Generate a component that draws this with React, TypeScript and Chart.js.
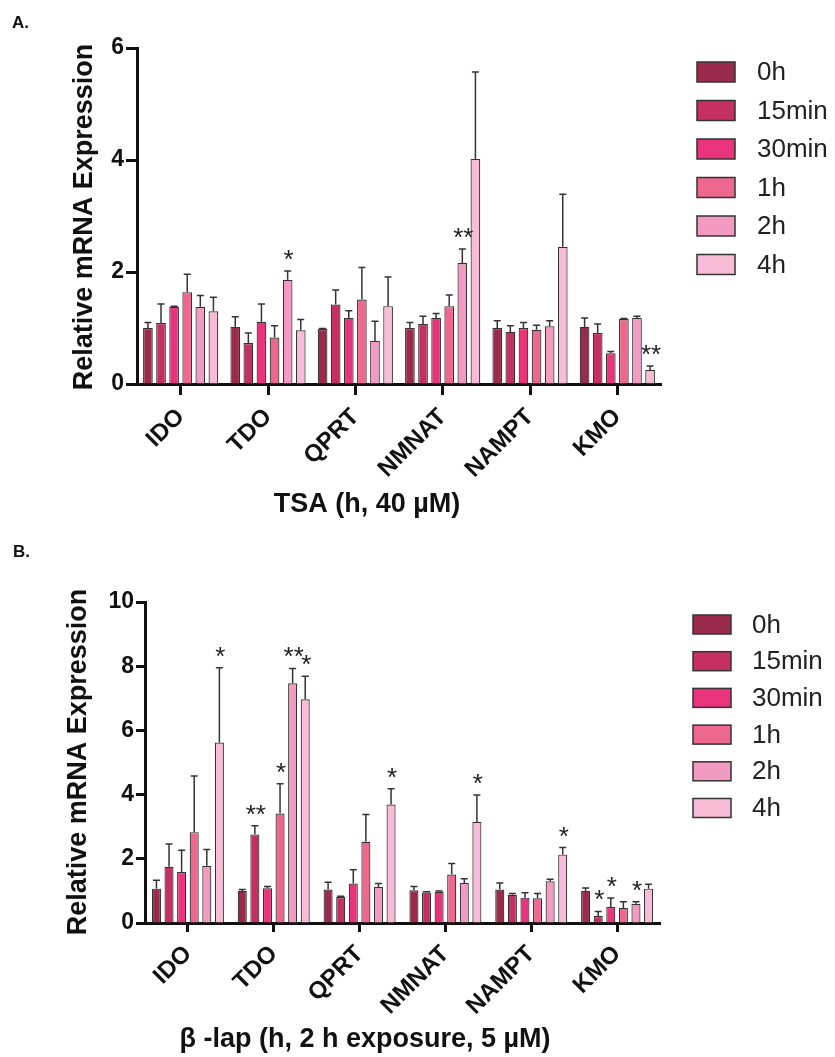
import React, { useEffect, useRef } from 'react';
import { Chart, registerables } from 'chart.js';
Chart.register(...registerables);

const categories = ['IDO', 'TDO', 'QPRT', 'NMNAT', 'NAMPT', 'KMO'];
const seriesLabels = ['0h', '15min', '30min', '1h', '2h', '4h'];
const seriesColors = ['#9A2B4C', '#C62F62', '#E9337A', '#EE678E', '#F29AC0', '#F8BCD6'];

// Panel A: TSA (h, 40 µM)
const tsa0h = [1.0, 1.02, 0.98, 1.0, 1.0, 1.02];
const tsa15min = [1.09, 0.73, 1.42, 1.07, 0.93, 0.91];
const tsa30min = [1.38, 1.11, 1.18, 1.18, 1.0, 0.55];
const tsa1h = [1.64, 0.83, 1.51, 1.39, 0.97, 1.16];
const tsa2h = [1.38, 1.86, 0.77, 2.16, 1.03, 1.18];
const tsa4h = [1.3, 0.96, 1.39, 4.02, 2.45, 0.25];
const tsaErr0h = [0.1, 0.18, 0.01, 0.1, 0.13, 0.16];
const tsaErr15min = [0.34, 0.18, 0.26, 0.14, 0.11, 0.16];
const tsaErr30min = [0.01, 0.32, 0.13, 0.08, 0.1, 0.03];
const tsaErr1h = [0.32, 0.21, 0.57, 0.2, 0.08, 0.01];
const tsaErr2h = [0.2, 0.16, 0.35, 0.25, 0.1, 0.03];
const tsaErr4h = [0.25, 0.19, 0.52, 1.55, 0.94, 0.07];
const tsaStars2h = ['', '*', '', '**', '', ''];
const tsaStars4h = ['', '', '', '', '', '**'];
const tsaYTicks = [0, 2, 4, 6];

// Panel B: β-lap (h, 2 h exposure, 5 µM)
const lap0h = [1.07, 1.0, 1.04, 1.02, 1.04, 1.0];
const lap15min = [1.75, 2.76, 0.81, 0.95, 0.88, 0.22];
const lap30min = [1.59, 1.08, 1.23, 0.97, 0.79, 0.5];
const lap1h = [2.83, 3.41, 2.53, 1.51, 0.77, 0.47];
const lap2h = [1.78, 7.47, 1.12, 1.25, 1.3, 0.6];
const lap4h = [5.62, 6.97, 3.69, 3.15, 2.13, 1.07];
const lapErr0h = [0.26, 0.04, 0.23, 0.12, 0.21, 0.09];
const lapErr15min = [0.71, 0.27, 0.02, 0.02, 0.04, 0.14];
const lapErr30min = [0.68, 0.06, 0.43, 0.03, 0.15, 0.28];
const lapErr1h = [1.75, 0.93, 0.85, 0.34, 0.15, 0.19];
const lapErr2h = [0.51, 0.46, 0.11, 0.13, 0.06, 0.06];
const lapErr4h = [2.33, 0.72, 0.49, 0.84, 0.22, 0.14];
const lapStars15min = ['', '**', '', '', '', '*'];
const lapStars30min = ['', '', '', '', '', '*'];
const lapStars1h = ['', '*', '', '', '', ''];
const lapStars2h = ['', '**', '', '', '', '*'];
const lapStars4h = ['*', '*', '*', '*', '*', ''];
const lapYTicks = [0, 2, 4, 6, 8, 10];

const noStars = ['', '', '', '', '', ''];
const FONT = "'Liberation Sans', Arial, Helvetica, sans-serif";

type Panel = {
  top: number;
  height: number;
  area: { left: number; right: number; top: number; bottom: number };
  yTicks: number[];
  means: number[][];
  errs: number[][];
  stars: string[][];
  xTitle: string;
  xTitlePos: [number, number];
  yTitlePos: [number, number];
  letter: string;
  letterPos: [number, number];
  legend: { x: number; y: number; w: number; h: number; step: number; textX: number };
  catPct: number;
  barPct: number;
  tickLen: number;
};

const panelA: Panel = {
  top: 0,
  height: 530,
  area: { left: 137, right: 661, top: 48, bottom: 384 },
  yTicks: tsaYTicks,
  means: [tsa0h, tsa15min, tsa30min, tsa1h, tsa2h, tsa4h],
  errs: [tsaErr0h, tsaErr15min, tsaErr30min, tsaErr1h, tsaErr2h, tsaErr4h],
  stars: [noStars, noStars, noStars, noStars, tsaStars2h, tsaStars4h],
  xTitle: 'TSA (h, 40 \u00B5M)',
  xTitlePos: [367, 505],
  yTitlePos: [85, 217],
  letter: 'A.',
  letterPos: [12, 28],
  legend: { x: 697, y: 62, w: 38, h: 20, step: 38.5, textX: 757 },
  catPct: 0.9,
  barPct: 0.74,
  tickLen: 11,
};

const panelB: Panel = {
  top: 530,
  height: 527,
  area: { left: 145, right: 660, top: 72, bottom: 393 },
  yTicks: lapYTicks,
  means: [lap0h, lap15min, lap30min, lap1h, lap2h, lap4h],
  errs: [lapErr0h, lapErr15min, lapErr30min, lapErr1h, lapErr2h, lapErr4h],
  stars: [noStars, lapStars15min, lapStars30min, lapStars1h, lapStars2h, lapStars4h],
  xTitle: '\u03B2 -lap (h, 2 h exposure, 5 \u00B5M)',
  xTitlePos: [365, 510],
  yTitlePos: [79, 232],
  letter: 'B.',
  letterPos: [13, 27],
  legend: { x: 693, y: 85, w: 38, h: 19, step: 36.7, textX: 752 },
  catPct: 0.88,
  barPct: 0.72,
  tickLen: 9,
};

function makeChart(canvas: HTMLCanvasElement, p: Panel) {
  const W = 835;
  const overlay = {
    id: 'overlay',
    afterDatasetsDraw(chart: any) {
      const ctx = chart.ctx;
      const y = chart.scales.y;
      ctx.save();
      chart.data.datasets.forEach((ds: any, i: number) => {
        const meta = chart.getDatasetMeta(i);
        meta.data.forEach((bar: any, j: number) => {
          const top = y.getPixelForValue(ds.data[j] + p.errs[i][j]);
          ctx.strokeStyle = '#333';
          ctx.lineWidth = 1.5;
          ctx.beginPath();
          ctx.moveTo(bar.x, bar.y);
          ctx.lineTo(bar.x, top);
          ctx.moveTo(bar.x - 3.5, top);
          ctx.lineTo(bar.x + 3.5, top);
          ctx.stroke();
          const s = p.stars[i][j];
          if (s) {
            ctx.fillStyle = '#222';
            ctx.font = `26px ${FONT}`;
            ctx.textAlign = 'center';
            ctx.textBaseline = 'alphabetic';
            ctx.fillText(s, bar.x + 1, top - 3);
          }
        });
      });
      ctx.restore();
    },
    afterDraw(chart: any) {
      const ctx = chart.ctx;
      ctx.save();
      ctx.fillStyle = '#111';
      ctx.font = `bold 27px ${FONT}`;
      ctx.textAlign = 'center';
      ctx.textBaseline = 'middle';
      ctx.fillText(p.xTitle, p.xTitlePos[0], p.xTitlePos[1]);
      ctx.save();
      ctx.translate(p.yTitlePos[0], p.yTitlePos[1]);
      ctx.rotate(-Math.PI / 2);
      ctx.font = `bold 27px ${FONT}`;
      ctx.fillText('Relative mRNA Expression', 0, 0);
      ctx.restore();
      ctx.font = `bold 17px ${FONT}`;
      ctx.textAlign = 'left';
      ctx.textBaseline = 'alphabetic';
      ctx.fillText(p.letter, p.letterPos[0], p.letterPos[1]);
      const L = p.legend;
      chart.data.datasets.forEach((ds: any, i: number) => {
        const by = L.y + i * L.step;
        ctx.fillStyle = ds.backgroundColor;
        ctx.fillRect(L.x, by, L.w, L.h);
        ctx.strokeStyle = '#333';
        ctx.lineWidth = 1.5;
        ctx.strokeRect(L.x, by, L.w, L.h);
        ctx.fillStyle = '#222';
        ctx.font = `26px ${FONT}`;
        ctx.textBaseline = 'middle';
        ctx.fillText(ds.label, L.textX, by + L.h / 2 + 1);
      });
      ctx.restore();
    },
  };

  return new Chart(canvas, {
    type: 'bar',
    data: {
      labels: categories,
      datasets: seriesLabels.map((lab, i) => ({
        label: lab,
        data: p.means[i],
        backgroundColor: seriesColors[i],
        borderColor: '#333',
        borderWidth: 1.2,
        categoryPercentage: p.catPct,
        barPercentage: p.barPct,
      })),
    },
    options: {
      responsive: false,
      animation: false,
      devicePixelRatio: 1,
      layout: {
        padding: { left: 0, top: p.area.top, right: W - p.area.right, bottom: 0 },
      },
      plugins: { legend: { display: false }, tooltip: { enabled: false } },
      scales: {
        x: {
          offset: true,
          grid: {
            offset: false,
            display: true,
            drawOnChartArea: false,
            drawTicks: true,
            tickLength: p.tickLen,
            tickWidth: 3,
            tickColor: '#111',
          },
          border: { display: true, width: 3, color: '#111' },
          ticks: {
            minRotation: 45,
            maxRotation: 45,
            autoSkip: false,
            padding: 8,
            color: '#111',
            font: { family: FONT, weight: 'bold', size: 24 },
          },
          afterFit(scale: any) {
            scale.height = p.height - p.area.bottom;
          },
        },
        y: {
          min: 0,
          max: p.yTicks[p.yTicks.length - 1],
          afterBuildTicks(scale: any) {
            scale.ticks = p.yTicks.map((v) => ({ value: v }));
          },
          grid: {
            display: true,
            drawOnChartArea: false,
            drawTicks: true,
            tickLength: p.tickLen,
            tickWidth: 3,
            tickColor: '#111',
          },
          border: { display: true, width: 3, color: '#111' },
          ticks: {
            padding: 2,
            color: '#111',
            font: { family: FONT, weight: 'bold', size: 23 },
          },
          afterFit(scale: any) {
            scale.width = p.area.left;
          },
        },
      },
    },
    plugins: [overlay],
  } as any);
}

function PanelChart({ p }: { p: Panel }) {
  const ref = useRef<HTMLCanvasElement>(null);
  useEffect(() => {
    if (!ref.current) return;
    const c = makeChart(ref.current, p);
    return () => c.destroy();
  }, [p]);
  return (
    <canvas
      ref={ref}
      width={835}
      height={p.height}
      style={{ position: 'absolute', left: 0, top: p.top, width: 835, height: p.height }}
    />
  );
}

export default function App() {
  return (
    <div style={{ position: 'absolute', left: 0, top: 0, width: 835, height: 1057, background: '#fff' }}>
      <PanelChart p={panelA} />
      <PanelChart p={panelB} />
    </div>
  );
}
